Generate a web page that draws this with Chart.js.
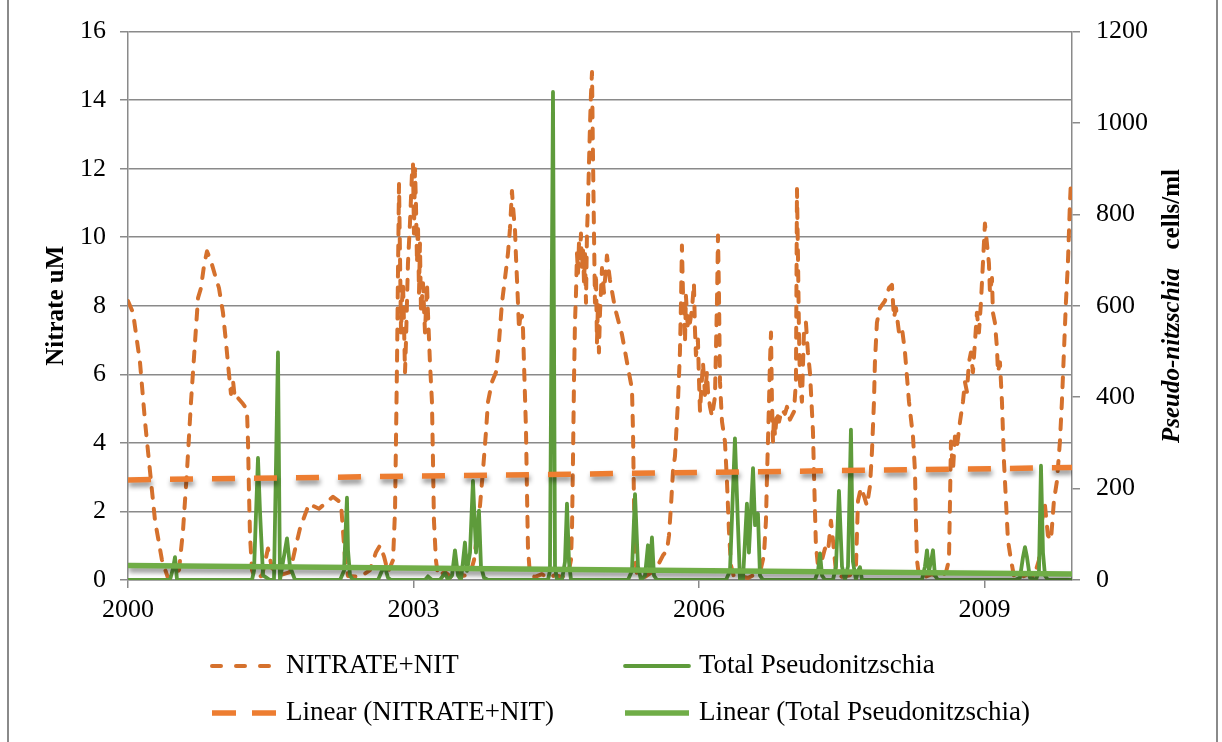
<!DOCTYPE html>
<html>
<head>
<meta charset="utf-8">
<title>Nitrate and Pseudo-nitzschia 2000-2009</title>
<script src="https://cdn.jsdelivr.net/npm/chart.js@4.4.1/dist/chart.umd.min.js"></script>
<style>
  html, body { margin: 0; padding: 0; background: #fff; overflow: hidden; }
  #wrap { position: relative; width: 1222px; height: 742px; }
  #frame { position: absolute; left: 7px; top: -4px; width: 1207px; height: 748px;
           border: 2px solid #8a8a8a; pointer-events: none; }
</style>
</head>
<body>
<div id="wrap">
  <canvas id="chart" width="1222" height="742"></canvas>
  <div id="frame"></div>
</div>
<script>
// x axis runs in decimal years
const xAxisStart = 2000;
const xAxisEnd = 2009.92;
const xTickYears = [2000, 2003, 2006, 2009];
const nitrateTicks = [0, 2, 4, 6, 8, 10, 12, 14, 16];
const cellTicks = [0, 200, 400, 600, 800, 1000, 1200];

// NITRATE+NIT, uM  [year, value]
const nitrate = [
  [2000.000, 8.14], [2000.053, 7.80], [2000.126, 6.35], [2000.179, 4.62], [2000.231, 3.18],
  [2000.284, 1.73], [2000.357, 0.58], [2000.420, 0.06], [2000.483, 0.12], [2000.536, 0.29],
  [2000.578, 1.44], [2000.620, 3.18], [2000.662, 5.20], [2000.704, 6.93], [2000.736, 8.23],
  [2000.767, 8.52], [2000.799, 9.18], [2000.830, 9.59], [2000.872, 9.30], [2000.914, 8.90],
  [2000.956, 8.52], [2000.998, 7.80], [2001.030, 6.93], [2001.061, 6.01], [2001.082, 5.43],
  [2001.103, 5.83], [2001.124, 5.26], [2001.156, 5.31], [2001.208, 5.14], [2001.250, 4.97],
  [2001.261, 4.04], [2001.271, 2.60], [2001.282, 1.30], [2001.303, 0.29], [2001.334, 0.06],
  [2001.408, 0.12], [2001.471, 0.92], [2001.513, 0.35], [2001.597, 0.14], [2001.702, 0.23],
  [2001.765, 1.01], [2001.807, 1.50], [2001.902, 2.22], [2002.007, 2.08], [2002.154, 2.43],
  [2002.238, 2.25], [2002.259, 1.44], [2002.280, 0.64], [2002.312, 0.12], [2002.438, 0.09],
  [2002.543, 0.29], [2002.606, 0.81], [2002.648, 1.01], [2002.690, 0.69], [2002.732, 0.23],
  [2002.785, 0.58], [2002.806, 2.02], [2002.816, 4.04], [2002.827, 6.35], [2002.837, 8.95],
  [2002.848, 11.55], [2002.858, 9.53], [2002.869, 7.22], [2002.879, 8.09], [2002.890, 8.66],
  [2002.900, 7.51], [2002.911, 6.06], [2002.921, 6.93], [2002.942, 9.24], [2002.963, 10.40],
  [2002.984, 11.84], [2002.995, 12.13], [2003.005, 10.11], [2003.016, 11.99], [2003.026, 10.97],
  [2003.037, 9.24], [2003.047, 10.40], [2003.058, 8.38], [2003.068, 9.82], [2003.079, 7.80],
  [2003.100, 8.66], [2003.121, 7.22], [2003.142, 8.66], [2003.152, 7.80], [2003.173, 6.35],
  [2003.194, 5.20], [2003.205, 3.47], [2003.215, 1.73], [2003.236, 0.58], [2003.257, 0.12],
  [2003.331, 0.23], [2003.405, 0.06], [2003.468, 0.29], [2003.520, 0.12], [2003.594, 0.17],
  [2003.636, 0.58], [2003.667, 1.30], [2003.699, 2.17], [2003.730, 3.18], [2003.762, 4.33],
  [2003.783, 5.20], [2003.825, 5.78], [2003.867, 6.06], [2003.898, 6.93], [2003.930, 8.09],
  [2003.962, 8.81], [2003.993, 9.53], [2004.014, 10.25], [2004.035, 11.35], [2004.046, 10.89],
  [2004.067, 10.20], [2004.077, 9.44], [2004.088, 8.75], [2004.098, 8.09], [2004.109, 7.31],
  [2004.119, 7.60], [2004.140, 7.71], [2004.151, 7.31], [2004.161, 6.35], [2004.182, 4.42],
  [2004.193, 2.51], [2004.203, 0.95], [2004.224, 0.14], [2004.277, 0.09], [2004.350, 0.17],
  [2004.413, 0.06], [2004.487, 0.14], [2004.560, 0.09], [2004.624, 0.17], [2004.655, 0.58],
  [2004.666, 1.53], [2004.676, 3.47], [2004.687, 5.86], [2004.697, 7.51], [2004.708, 8.38],
  [2004.718, 9.53], [2004.729, 8.95], [2004.739, 9.82], [2004.750, 9.39], [2004.760, 10.11],
  [2004.771, 9.10], [2004.781, 9.68], [2004.792, 8.66], [2004.802, 9.53], [2004.813, 8.09],
  [2004.823, 10.11], [2004.834, 10.97], [2004.844, 12.13], [2004.855, 13.28], [2004.865, 14.15],
  [2004.876, 14.82], [2004.886, 12.42], [2004.897, 10.11], [2004.907, 8.09], [2004.918, 8.95],
  [2004.928, 6.93], [2004.939, 8.09], [2004.949, 6.64], [2004.960, 7.80], [2004.981, 9.10],
  [2005.002, 8.38], [2005.033, 9.47], [2005.065, 8.75], [2005.117, 7.94], [2005.191, 7.16],
  [2005.244, 6.35], [2005.296, 5.57], [2005.307, 4.33], [2005.317, 2.31], [2005.328, 0.72],
  [2005.349, 0.12], [2005.433, 0.09], [2005.506, 0.23], [2005.569, 0.43], [2005.622, 0.72],
  [2005.664, 0.87], [2005.685, 1.30], [2005.706, 2.17], [2005.727, 3.18], [2005.748, 3.61],
  [2005.779, 5.20], [2005.800, 6.64], [2005.811, 8.09], [2005.821, 9.76], [2005.832, 8.38],
  [2005.842, 8.09], [2005.853, 6.93], [2005.863, 8.29], [2005.884, 7.31], [2005.905, 7.51],
  [2005.926, 7.88], [2005.947, 8.66], [2005.958, 7.31], [2005.968, 6.56], [2005.989, 7.02],
  [2006.000, 5.86], [2006.011, 4.91], [2006.021, 5.40], [2006.042, 6.35], [2006.063, 5.40],
  [2006.084, 6.06], [2006.095, 5.49], [2006.116, 5.05], [2006.137, 4.77], [2006.168, 5.34],
  [2006.189, 8.09], [2006.200, 10.05], [2006.210, 8.38], [2006.221, 5.78], [2006.242, 4.62],
  [2006.273, 4.04], [2006.294, 2.89], [2006.315, 1.44], [2006.336, 0.43], [2006.368, 0.09],
  [2006.431, 0.12], [2006.515, 0.06], [2006.589, 0.17], [2006.652, 0.35], [2006.683, 0.72],
  [2006.704, 1.73], [2006.715, 3.03], [2006.725, 4.04], [2006.736, 5.20], [2006.746, 6.35],
  [2006.757, 7.22], [2006.767, 5.20], [2006.778, 4.04], [2006.788, 4.77], [2006.799, 4.19],
  [2006.820, 4.91], [2006.841, 4.62], [2006.872, 4.97], [2006.904, 4.85], [2006.925, 5.05],
  [2006.956, 4.68], [2006.998, 4.91], [2007.019, 5.78], [2007.030, 11.41], [2007.040, 9.53],
  [2007.051, 7.22], [2007.061, 5.78], [2007.082, 5.20], [2007.103, 7.22], [2007.124, 7.51],
  [2007.145, 6.64], [2007.166, 6.06], [2007.177, 5.49], [2007.198, 4.33], [2007.208, 3.18],
  [2007.219, 2.02], [2007.229, 1.01], [2007.250, 0.43], [2007.292, 0.58], [2007.324, 0.92],
  [2007.356, 0.81], [2007.387, 1.73], [2007.408, 1.16], [2007.440, 0.23], [2007.503, 0.09],
  [2007.587, 0.14], [2007.650, 0.43], [2007.671, 2.31], [2007.702, 2.69], [2007.734, 2.45],
  [2007.765, 2.17], [2007.797, 2.74], [2007.818, 3.75], [2007.839, 5.20], [2007.849, 6.35],
  [2007.870, 7.51], [2007.902, 7.94], [2007.954, 8.14], [2007.997, 8.52], [2008.028, 8.61],
  [2008.049, 7.65], [2008.070, 7.94], [2008.102, 7.22], [2008.133, 7.36], [2008.165, 6.64],
  [2008.207, 5.20], [2008.249, 4.19], [2008.270, 3.18], [2008.280, 1.73], [2008.291, 0.58],
  [2008.312, 0.12], [2008.375, 0.09], [2008.449, 0.17], [2008.533, 0.06], [2008.596, 0.23],
  [2008.627, 0.58], [2008.638, 2.31], [2008.648, 4.04], [2008.669, 3.18], [2008.690, 4.19],
  [2008.711, 3.90], [2008.743, 4.62], [2008.774, 5.20], [2008.795, 5.78], [2008.816, 5.49],
  [2008.837, 6.35], [2008.858, 6.64], [2008.879, 6.06], [2008.900, 6.93], [2008.921, 7.80],
  [2008.942, 7.22], [2008.963, 8.09], [2008.984, 9.24], [2009.005, 10.40], [2009.026, 9.82],
  [2009.047, 9.24], [2009.058, 8.38], [2009.079, 8.81], [2009.089, 7.80], [2009.110, 7.51],
  [2009.131, 6.79], [2009.142, 6.06], [2009.163, 6.35], [2009.184, 5.20], [2009.205, 3.47],
  [2009.226, 2.31], [2009.247, 1.16], [2009.279, 0.58], [2009.310, 0.12], [2009.373, 0.06],
  [2009.457, 0.17], [2009.520, 0.09], [2009.573, 0.58], [2009.604, 1.73], [2009.636, 2.17],
  [2009.667, 1.30], [2009.699, 1.16], [2009.730, 2.31], [2009.762, 2.89], [2009.793, 4.04],
  [2009.814, 5.20], [2009.835, 6.64], [2009.856, 8.09], [2009.877, 9.24], [2009.898, 10.97],
  [2009.909, 11.64]
];

// Total Pseudonitzschia, cells/ml  [year, value]
const pseudo = [
  [2000.000, 0], [2000.336, 0], [2000.441, 0], [2000.473, 25], [2000.494, 50], [2000.515, 0],
  [2000.757, 0], [2001.303, 0], [2001.324, 20], [2001.366, 267], [2001.387, 150], [2001.419, 10],
  [2001.492, 0], [2001.534, 0], [2001.576, 498], [2001.597, 0], [2001.629, 40], [2001.671, 91],
  [2001.702, 30], [2001.755, 0], [2002.228, 0], [2002.270, 20], [2002.301, 180], [2002.312, 65],
  [2002.333, 10], [2002.364, 0], [2002.627, 0], [2002.669, 20], [2002.701, 28], [2002.732, 5],
  [2002.764, 0], [2003.121, 0], [2003.152, 8], [2003.194, 0], [2003.278, 0], [2003.331, 15],
  [2003.363, 0], [2003.405, 10], [2003.436, 65], [2003.468, 10], [2003.499, 0], [2003.520, 40],
  [2003.541, 82], [2003.562, 20], [2003.594, 60], [2003.625, 217], [2003.657, 60], [2003.688, 152],
  [2003.709, 30], [2003.741, 5], [2003.783, 0], [2004.329, 0], [2004.413, 0], [2004.434, 20],
  [2004.466, 1068], [2004.487, 30], [2004.508, 0], [2004.560, 0], [2004.592, 40], [2004.613, 167],
  [2004.634, 40], [2004.655, 0], [2005.254, 0], [2005.296, 20], [2005.328, 188], [2005.359, 30],
  [2005.391, 0], [2005.433, 10], [2005.464, 76], [2005.485, 20], [2005.506, 93], [2005.527, 10],
  [2005.559, 0], [2006.284, 0], [2006.326, 20], [2006.378, 310], [2006.410, 120], [2006.431, 0],
  [2006.462, 0], [2006.504, 167], [2006.525, 60], [2006.568, 245], [2006.589, 120], [2006.620, 145],
  [2006.641, 10], [2006.673, 0], [2007.219, 0], [2007.251, 20], [2007.272, 58], [2007.293, 10],
  [2007.324, 0], [2007.408, 0], [2007.440, 30], [2007.471, 195], [2007.503, 30], [2007.534, 0],
  [2007.566, 30], [2007.597, 329], [2007.618, 40], [2007.650, 0], [2007.671, 20], [2007.692, 28],
  [2007.713, 0], [2008.343, 0], [2008.375, 30], [2008.396, 65], [2008.417, 20], [2008.438, 40],
  [2008.459, 65], [2008.480, 10], [2008.511, 0], [2009.321, 0], [2009.373, 5], [2009.405, 50],
  [2009.426, 72], [2009.447, 50], [2009.478, 5], [2009.541, 0], [2009.573, 20], [2009.594, 250],
  [2009.615, 60], [2009.636, 10], [2009.667, 0], [2009.920, 0]
];

// linear trend lines, end points as drawn in the picture
const nitrateTrend = [[2000.000, 2.92], [2009.920, 3.28]];
const pseudoTrend = [[2000.000, 32], [2009.920, 13]];

const serif = '"Liberation Serif", "Times New Roman", serif';
const gray = "#8a8a8a";
const toPoints = rows => rows.map(([x, y]) => ({ x, y }));

const trendShadow = {
  id: "trendShadow",
  beforeDatasetDraw(chart, args) {
    if (!chart.data.datasets[args.index].isTrend) return;
    const { ctx } = chart;
    ctx.save();
    ctx.shadowColor = "rgba(0,0,0,.45)";
    ctx.shadowBlur = 5;
    ctx.shadowOffsetX = 1;
    ctx.shadowOffsetY = 4;
  },
  afterDatasetDraw(chart, args) {
    if (chart.data.datasets[args.index].isTrend) chart.ctx.restore();
  }
};

// two-column legend below the plot, like the spreadsheet original
const gridLegend = {
  id: "gridLegend",
  afterDraw(chart) {
    const { ctx } = chart;
    const slots = [
      { ds: 0, x: 212, y: 666 }, { ds: 1, x: 625, y: 666 },
      { ds: 2, x: 212, y: 713 }, { ds: 3, x: 625, y: 713 }
    ];
    ctx.save();
    slots.forEach(slot => {
      const ds = chart.data.datasets[slot.ds];
      ctx.beginPath();
      ctx.setLineDash(ds.legendDash || ds.borderDash || []);
      ctx.lineDashOffset = 0;
      ctx.lineWidth = ds.borderWidth;
      ctx.strokeStyle = ds.borderColor;
      ctx.lineCap = ds.borderCapStyle || "butt";
      ctx.moveTo(slot.x, slot.y);
      ctx.lineTo(slot.x + 64, slot.y);
      ctx.stroke();
      ctx.setLineDash([]);
      ctx.fillStyle = "#000";
      ctx.font = `27px ${serif}`;
      ctx.textAlign = "left";
      ctx.textBaseline = "middle";
      ctx.fillText(ds.label, slot.x + 74, slot.y);
    });
    ctx.restore();
  }
};

// right axis title mixes italic and upright bold
const rightTitle = {
  id: "rightTitle",
  afterDraw(chart) {
    const { ctx } = chart;
    const italicPart = "Pseudo-nitzschia";
    const plainPart = "  cells/ml";
    const f1 = `italic bold 25px ${serif}`;
    const f2 = `bold 25px ${serif}`;
    ctx.save();
    ctx.translate(1173, 306);
    ctx.rotate(-Math.PI / 2);
    ctx.textBaseline = "middle";
    ctx.textAlign = "left";
    ctx.fillStyle = "#000";
    ctx.font = f1;
    const w1 = ctx.measureText(italicPart).width;
    ctx.font = f2;
    const w2 = ctx.measureText(plainPart).width;
    const start = -(w1 + w2 + 6) / 2;
    ctx.font = f1;
    ctx.fillText(italicPart, start, 0);
    ctx.font = f2;
    ctx.fillText(plainPart, start + w1 + 6, 0);
    ctx.restore();
  }
};

new Chart(document.getElementById("chart"), {
  type: "line",
  data: {
    datasets: [
      {
        label: "NITRATE+NIT",
        data: toPoints(nitrate),
        yAxisID: "y",
        borderColor: "#d5712d",
        borderWidth: 4,
        borderDash: [10, 11],
        legendDash: [9, 15],
        borderCapStyle: "round",
        borderJoinStyle: "round",
        pointRadius: 0,
        tension: 0,
        order: 4
      },
      {
        label: "Total Pseudonitzschia",
        data: toPoints(pseudo),
        yAxisID: "y2",
        borderColor: "#5e9b3b",
        borderWidth: 3.8,
        borderJoinStyle: "round",
        borderCapStyle: "round",
        pointRadius: 0,
        tension: 0,
        order: 3
      },
      {
        label: "Linear (NITRATE+NIT)",
        data: toPoints(nitrateTrend),
        yAxisID: "y",
        borderColor: "#ed7d31",
        borderWidth: 5.5,
        borderDash: [23, 19],
        legendDash: [24, 16],
        borderCapStyle: "butt",
        pointRadius: 0,
        isTrend: true,
        order: 1
      },
      {
        label: "Linear (Total Pseudonitzschia)",
        data: toPoints(pseudoTrend),
        yAxisID: "y2",
        borderColor: "#70ad47",
        borderWidth: 5.5,
        borderCapStyle: "butt",
        pointRadius: 0,
        isTrend: true,
        order: 2
      }
    ]
  },
  plugins: [trendShadow, gridLegend, rightTitle],
  options: {
    responsive: false,
    animation: false,
    layout: { padding: { top: 26, left: 0, right: 0, bottom: 0 } },
    plugins: { legend: { display: false }, tooltip: { enabled: false } },
    scales: {
      x: {
        type: "linear",
        min: xAxisStart,
        max: xAxisEnd,
        afterBuildTicks: scale => { scale.ticks = xTickYears.map(value => ({ value })); },
        afterFit: scale => { scale.height = 162; },
        grid: { drawOnChartArea: false, drawTicks: true, tickLength: 8, color: gray, lineWidth: 1.5 },
        border: { display: true, color: gray, width: 1.5 },
        ticks: {
          color: "#000",
          font: { family: serif, size: 26 },
          padding: 7,
          maxRotation: 0,
          callback: value => String(value)
        }
      },
      y: {
        position: "left",
        min: 0,
        max: 16,
        afterBuildTicks: scale => { scale.ticks = nitrateTicks.map(value => ({ value })); },
        afterFit: scale => { scale.width = 128; },
        grid: { color: gray, lineWidth: 1.5, tickLength: 8 },
        border: { display: true, color: gray, width: 1.5 },
        ticks: {
          color: "#000",
          font: { family: serif, size: 26 },
          padding: 14,
          callback: value => String(value)
        },
        title: {
          display: true,
          text: "Nitrate uM",
          color: "#000",
          font: { family: serif, size: 25, weight: "bold" },
          padding: { top: 42, bottom: 0 }
        }
      },
      y2: {
        position: "right",
        min: 0,
        max: 1200,
        afterBuildTicks: scale => { scale.ticks = cellTicks.map(value => ({ value })); },
        afterFit: scale => { scale.width = 150; },
        grid: { drawOnChartArea: false, color: gray, lineWidth: 1.5, tickLength: 8 },
        border: { display: true, color: gray, width: 1.5 },
        ticks: {
          color: "#000",
          font: { family: serif, size: 26 },
          padding: 16,
          callback: value => String(value)
        }
      }
    }
  }
});
</script>
</body>
</html>
